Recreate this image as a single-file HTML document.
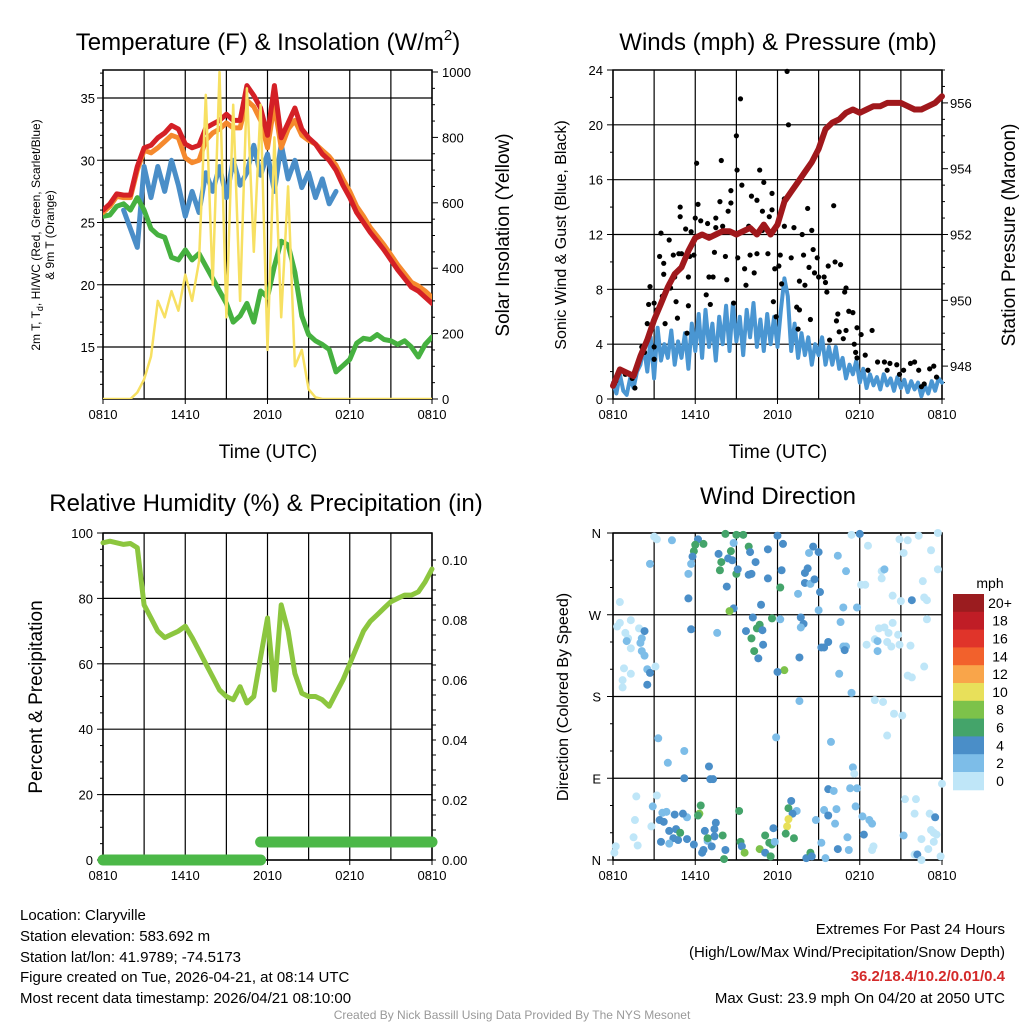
<!DOCTYPE html>
<html><head><meta charset="utf-8"><style>
html,body{margin:0;padding:0;background:#fff;}
svg{display:block;font-family:"Liberation Sans",Arial,sans-serif;}
</style></head><body>
<svg id="root" width="1024" height="1024" viewBox="0 0 1024 1024" xmlns="http://www.w3.org/2000/svg">
<g id="texts">
<text x="268" y="50" font-size="24" text-anchor="middle">Temperature (F) &amp; Insolation (W/m<tspan font-size="15" dy="-10">2</tspan><tspan dy="10">)</tspan></text>
<text x="778" y="50" font-size="24" text-anchor="middle">Winds (mph) &amp; Pressure (mb)</text>
<text x="266" y="511" font-size="24" text-anchor="middle">Relative Humidity (%) &amp; Precipitation (in)</text>
<text x="778" y="504" font-size="24" text-anchor="middle">Wind Direction</text>
<text x="268" y="458" font-size="19" text-anchor="middle">Time (UTC)</text>
<text x="778" y="458" font-size="19" text-anchor="middle">Time (UTC)</text>
<text transform="translate(40,235) rotate(-90)" font-size="12" text-anchor="middle">2m T, T<tspan font-size="9" dy="3">d</tspan><tspan dy="-3">, HI/WC (Red, Green, Scarlet/Blue)</tspan></text>
<text transform="translate(54,235) rotate(-90)" font-size="12" text-anchor="middle">&amp; 9m T (Orange)</text>
<text transform="translate(509,235) rotate(-90)" font-size="19" text-anchor="middle">Solar Insolation (Yellow)</text>
<text transform="translate(566,235) rotate(-90)" font-size="16" text-anchor="middle">Sonic Wind &amp; Gust (Blue, Black)</text>
<text transform="translate(1015,235) rotate(-90)" font-size="19" text-anchor="middle">Station Pressure (Maroon)</text>
<text transform="translate(42,697) rotate(-90)" font-size="19" text-anchor="middle">Percent &amp; Precipitation</text>
<text transform="translate(568,697) rotate(-90)" font-size="16" text-anchor="middle">Direction (Colored By Speed)</text>
<g font-size="15">
<text x="20" y="920">Location: Claryville</text>
<text x="20" y="941">Station elevation: 583.692 m</text>
<text x="20" y="962">Station lat/lon: 41.9789; -74.5173</text>
<text x="20" y="982">Figure created on Tue, 2026-04-21, at 08:14 UTC</text>
<text x="20" y="1003">Most recent data timestamp: 2026/04/21 08:10:00</text>
</g>
<g font-size="15" text-anchor="end">
<text x="1005" y="934">Extremes For Past 24 Hours</text>
<text x="1005" y="957">(High/Low/Max Wind/Precipitation/Snow Depth)</text>
<text x="1005" y="981" font-weight="bold" fill="#d42a2a">36.2/18.4/10.2/0.01/0.4</text>
<text x="1005" y="1003">Max Gust: 23.9 mph On 04/20 at 2050 UTC</text>
</g>
<text x="512" y="1019" font-size="12" fill="#999" text-anchor="middle">Created By Nick Bassill Using Data Provided By The NYS Mesonet</text>
</g>
</svg>
<script>
// ---------- DATA (half-hour steps from 0810 UTC unless noted) ----------
const timeLabels = ["0810","1410","2010","0210","0810"];
const tempT = [26.0,26.5,27.3,27.2,27.2,29.5,31.0,31.2,31.8,32.2,32.8,32.5,31.3,31.0,31.2,32.6,32.9,33.2,33.7,33.2,33.2,36.0,35.2,34.2,32.0,36.0,31.8,33.0,34.2,32.5,31.8,31.3,30.5,30.0,29.2,28.0,27.0,25.8,25.0,24.2,23.5,22.8,22.0,21.2,20.5,19.8,19.5,19.0,18.5];
const temp9m = [25.8,26.3,27.1,27.0,27.0,29.2,30.8,30.6,31.0,31.5,32.0,31.8,30.2,29.8,30.0,31.6,32.2,32.5,33.0,32.6,32.6,34.8,34.3,33.2,31.0,34.5,31.0,32.5,33.2,32.0,31.6,31.3,30.8,30.3,29.6,28.5,27.5,26.3,25.5,24.6,23.9,23.2,22.4,21.6,20.9,20.2,19.9,19.5,19.0];
const tempTd = [25.5,25.6,26.3,26.5,26.0,27.0,26.0,24.5,24.0,23.8,22.2,22.0,22.8,22.0,22.5,21.5,20.5,19.5,18.5,17.0,17.5,18.5,17.0,19.5,19.0,21.5,23.5,23.2,21.0,17.5,16.0,15.5,15.2,14.8,13.0,13.5,14.0,15.3,15.7,15.6,16.0,15.6,15.5,15.2,15.5,15.0,14.2,15.2,15.8];
const tempWC = [null,null,null,26.0,24.5,23.0,29.5,27.0,29.5,27.5,30.0,28.0,25.5,27.5,25.8,29.0,27.5,29.5,27.0,30.0,28.0,29.0,31.2,28.8,30.5,27.5,31.3,28.5,30.0,27.8,29.0,27.0,28.5,26.5,27.5,null,null,null,null,null,null,null,null,null,null,17.6,null,null,null];
const insolation = [0,0,0,0,0,20,60,130,300,250,330,270,380,300,420,930,350,1000,250,900,300,950,450,900,150,800,250,650,100,150,30,5,0,0,0,0,0,0,0,0,0,0,0,0,0,0,0,0,0];
// quarter-hour wind speed
const windSpeed = [1.2,0.4,1.8,0.6,0.3,1.5,0.8,2.0,2.5,
3.8,2.0,4.5,1.5,5.2,2.8,4.0,3.0,
5.0,2.5,4.2,3.0,4.8,2.2,5.5,3.5,
6.2,3.0,6.5,3.8,5.5,2.8,6.0,4.0,
6.8,3.5,7.0,4.2,6.0,3.2,6.5,4.5,
7.0,3.8,5.8,3.5,6.2,4.0,6.0,3.8,
6.5,8.8,7.5,3.5,5.5,3.0,4.8,3.2,
4.5,2.5,4.0,3.2,4.5,2.5,3.8,2.5,
3.8,2.2,3.0,1.5,2.5,1.8,2.8,1.2,
2.2,0.8,1.8,1.0,1.6,0.7,1.8,1.0,
1.5,0.6,1.6,0.8,1.4,0.5,1.3,0.7,
1.2,0.2,1.0,0.4,1.3,0.6,1.5,1.2];
const pressure = [947.4,947.9,947.8,947.7,948.3,948.8,949.4,949.9,950.4,950.8,951.0,951.5,951.9,952.0,951.9,952.0,952.1,952.1,952.0,952.1,952.2,952.0,952.3,952.0,952.3,953.0,953.3,953.6,953.9,954.2,954.6,955.2,955.4,955.5,955.7,955.8,955.7,955.8,955.9,955.9,956.0,956.0,956.0,955.9,955.8,955.8,955.9,956.0,956.2];
const gustHours = [12.7,12.8,9.3,9.0,6.1,7.9,9.05,10.7,11.0,8.6,9.4,4.9,4.9,6.2,10.1,10.5,11.6,7.8,8.6,8.4,10.9,11.6,12.5,14.2,16.1,3.5,5.3,5.7,6.0,6.4,6.9,7.5,8.0,7.5,9.4,9.9,10.9,11.4,12.5,13.2,13.8,14.5,4.1,3.4,3.7,4.4,4.8,5.0,5.6,5.9,7.4,8.2,9.1,10.0,10.5,11.3,12.2,13.0,13.9,14.6,14.9,16.2,16.6,15.7,14.3,3.7,4.5,5.5,7.0,7.3,9.6,10.3,11.8,12.1,13.6,14.0,14.7,15.0,15.4,15.5,4.1,4.2,2.7,12.3,8.3,9.7,15.6,17.0,16.9,3.6,4.6,5.5,6.8,7.1,2.6,3.0,11.7,13.4,13.6,3.2,16.4,17.2,17.5,16.3,3.8,2.5,4.7,5.4,8.8,11.9,13.5,14.4,16.5,17.0,17.8,18.1,18.9,16.8,15.8,17.6,17.7,17.8,18.4,2.1,2.3,3.0,3.0,18.6,19.3,19.8,20.2,20.7,20.0,21.2,20.9,21.7,22.0,22.3,23.1,23.4,23.6,22.7,22.5,0.6,0.9,1.4,0.2,0.1,1.6];
const gustMph = [23.9,20,21.9,19.2,17.2,17.4,16.7,16.7,15.8,15.2,15.6,14,13.3,14.2,14.8,14.5,15,14.4,14.3,13.7,13.7,13.8,14.6,13.9,14.1,12.1,12.4,12.2,13.2,13,12.8,12.5,12.6,13.2,12.2,12.6,12.3,13.3,12.6,12.5,12,12.3,11.6,10.4,9.9,10.5,10.6,10.6,10.4,10.5,10.7,10.4,10.3,10.5,10.6,10.6,10.5,10.3,10.5,10.9,10.3,10,9.8,9.7,9.6,9.1,8.9,8.9,8.9,8.9,9.5,9.2,9.5,9.7,8.6,8.3,9.2,8.9,8.9,8.5,8.4,8.1,8.2,8.4,8.7,8.3,7.8,8.1,7.8,7.5,7.1,6.8,7.6,6.9,6.9,7,7.1,6.7,6.5,6.5,6.2,6.4,6.3,5.7,5.5,5.5,5.9,4.8,7,6,5.1,5.8,4.9,5,5.2,4.7,5,4.4,4.3,4,3.4,3,3.2,3.8,3.4,3.8,2.9,2.1,2.7,2.7,2.6,2.5,2.1,2.1,1.8,2.6,2.7,2.1,2.2,2.4,1.6,1.1,0.9,2.1,1.8,1.5,1.3,1.1,0.8];
const humidity = [97,97.5,97,96.5,96.8,95.5,78,74,70,68,69,70,71.5,68,64,60,56,52,50,49,53,48,50,62,74,52,78,70,57,51,50,50,49,47,51,55,60,65,70,73,75,77,79,80,81,81,82,85,89];
const precip = [0,0,0,0,0,0,0,0,0,0,0,0,0,0,0,0,0,0,0,0,0,0,0,0.006,0.006,0.006,0.006,0.006,0.006,0.006,0.006,0.006,0.006,0.006,0.006,0.006,0.006,0.006,0.006,0.006,0.006,0.006,0.006,0.006,0.006,0.006,0.006,0.006,0.006];
const dirHours = [3.0,3.2,4.3,6.2,6.0,6.6,5.9,5.8,5.7,5.5,2.7,5.5,0.5,8.2,9.0,9.5,8.8,9.9,10,7.7,8.6,8.4,8.7,7.9,7.8,9.0,9.1,9.9,10.1,10.4,11.3,12.0,12.4,12.3,11.3,12.2,8.3,10.8,8.8,8.5,14.6,14.3,15.0,14.2,14.0,14.0,14.4,14.7,15.1,13.5,16.4,17.0,17.4,18.0,18.6,15.0,16.8,17.8,18.1,18.4,19.6,19.8,19.6,20.4,21.0,21.8,22.7,22.9,20.9,21.5,22.3,23.7,21.2,23.2,23.7,22.6,
0.5,0.3,1.3,0.9,1.1,1.0,1.9,2.3,2.1,2.0,1.3,2.1,2.3,0.8,1.3,0.7,0.7,2.5,2.7,3.1,2.5,5.7,7.6,10.2,11.6,12.2,10.7,10.5,9.7,10.9,10.1,10.95,10.3,10.6,12.5,12.0,13.6,13.7,13.9,13.7,15.7,15.4,15.2,16.6,16.8,17.0,16.9,16.5,17.4,19.4,19.8,20.4,20.1,20.8,19.1,19.3,20.0,20.3,20.9,19.3,18.5,21.7,22.9,22.7,21.5,21.8,
13.6,19.1,19.7,20.5,21.1,20.0,3.3,11.9,15.9,5.2,4.0,7.0,5.2,7.1,7.3,17.5,17.6,
24.0,15.7,16.1,17.3,17.8,1.7,3.2,2.9,21.3,22.1,22.0,23.1,23.5,13.0,12.8,13.4,13.1,12.8,12.7,12.6,13.2,9.2,6.4,6.3,6.2,5.4,5.1,4.5,3.9,3.6,3.4,3.7,2.8,1.6,1.5,1.8,0.2,0.1,3.5,4.1,4.4,4.6,4.75,4.9,5.4,4.1,5.9,6.7,6.9,7.4,7.5,7.4,8.0,6.9,7.2,6.6,6.5,8.2,9.3,9.4,9.6,8.1,10.7,11.1,11.5,11.1,11.4,11.6,11.7,11.8,14.1,14.4,14.5,15.2,15.5,14.8,15.4,15.7,16.3,16.2,16.4,17.2,17.1,17.7,18.2,18.3,18.7,18.9,19.0,18.9,21.2,22.5,23.2,23.4,23.6,23.4,23.0,22.0,22.2,22.5,23.9];
const dirDegrees = [356,353,352,353,347,348,340,334,326,315,326,288,284,359,358,358,349,345,339,337,340,332,330,328,319,315,320,314,315,328,342,357,348,319,310,300,301,281,277,274,345,338,339,321,316,305,304,309,295,293,335,318,358,359,346,275,278,278,303,303,318,320,310,291,285,286,289,286,353,352,357,360,338,341,320,307,
261,257,264,250,244,241,255,252,244,239,233,230,225,211,205,198,190,210,206,213,193,254,250,267,266,265,259,255,252,253,244,237,230,222,209,207,223,267,260,256,240,234,234,262,235,235,231,205,184,255,256,261,250,248,243,241,240,235,237,230,237,236,265,213,203,201,
175,176,174,161,159,137,134,135,130,120,107,103,90,89,89,102,95,
84,78,76,79,79,70,71,59,67,67,51,51,47,65,57,54,51,45,37,29,24,54,60,51,49,47,51,50,53,52,44,42,37,44,25,16,15,8,20,32,24,34,22,30,23,18,17,32,21,34,41,26,27,24,15,11,8,11,20,15,8,1,12,8,4,27,19,17,35,20,2,8,4,19,2,44,55,49,56,40,12,11,25,59,48,28,44,40,15,11,27,23,33,30,28,20,12,6,6,0,4];
const dirSpeeds = [1,1,3,5,7,7,7,5,3,3,3,5,1,7,7,7,3,7,5,5,7,5,5,7,7,7,5,5,5,5,5,5,5,5,5,7,5,5,5,9,5,3,5,5,5,5,3,5,5,3,3,3,1,5,1,3,3,3,1,1,1,3,1,1,1,5,1,1,1,1,1,1,1,1,1,1,
1,1,1,1,1,3,1,5,3,3,1,3,3,1,1,1,1,3,5,1,5,5,3,5,7,3,7,7,5,5,7,5,7,5,9,5,5,5,5,3,5,5,5,3,3,3,5,3,3,1,1,1,1,1,1,3,1,1,1,3,1,1,1,1,1,1,
3,1,1,1,1,1,3,3,3,3,3,5,5,5,5,3,1,
1,5,3,3,3,1,1,3,1,1,1,1,5,5,7,3,5,11,11,7,7,7,7,9,7,3,5,5,3,3,5,5,1,1,1,1,1,1,5,5,5,5,5,7,5,3,5,5,3,5,5,5,7,7,5,5,5,5,7,5,9,7,9,5,7,7,7,7,5,3,5,7,5,3,3,3,3,5,3,3,5,3,3,3,3,5,3,3,1,1,3,1,1,1,1,1,1,1,5,1,1,1,1,1,1];
const speedBins = ["0","2","4","6","8","10","12","14","16","18","20+"];
const speedColors = ["#bfe6f8","#7dbde8","#4a8ec8","#44a46a","#7dc24a","#e8e05a","#f9a54a","#f2612c","#e0342a","#c01d26","#9b1c1f"];

// ---------- HELPERS ----------
const NS = "http://www.w3.org/2000/svg";
const root = document.getElementById("root");
function mk(tag, attrs, parent){ const e=document.createElementNS(NS,tag); for(const k in attrs) e.setAttribute(k,attrs[k]); (parent||root).appendChild(e); return e; }
function lin(d0,d1,r0,r1){ return v => r0 + (v-d0)*(r1-r0)/(d1-d0); }
function txt(x,y,s,size,anchor,parent){ const t=mk("text",{x:x,y:y,"font-size":size,"text-anchor":anchor},parent); t.textContent=s; return t; }

function panelFrame(name,L,T,R,B,hLinesY,vx){
  const g = mk("g",{});
  
  
  hLinesY.forEach(y=>{ const l=mk("line",{x1:L,x2:R,y1:y,y2:y,stroke:"#000","stroke-width":1.2},g);
    
     });
  for(let h=0;h<=24;h+=3){ const x=vx(h); const l=mk("line",{x1:x,x2:x,y1:T,y2:B,stroke:"#000","stroke-width":1.2},g);
    
     }
  const r=mk("rect",{x:L,y:T,width:R-L,height:B-T,fill:"none",stroke:"#000","stroke-width":1.5},g);
  
  
  timeLabels.forEach((s,i)=>{ const x=vx(i*6); const t=txt(x,B+20,s,13,"middle",g);
    
    
    mk("line",{x1:x,x2:x,y1:B,y2:B+5,stroke:"#000"},g); });
  return g;
}
function pathFrom(vals, xs, ys, name, color, width, parent, step){
  step = step || 0.5;
  let d="", pen=false;
  vals.forEach((v,i)=>{ if(v===null||v===undefined){pen=false;return;} d+=(pen?"L":"M")+xs(i*step).toFixed(1)+","+ys(v).toFixed(1); pen=true; });
  const p=mk("path",{d:d,fill:"none",stroke:color,"stroke-width":width,"stroke-linejoin":"round","stroke-linecap":"round"},parent);
  
  
  return p;
}

// ---------- PANEL 1 ----------
{
  const L=103,R=432,T=70,B=399;
  const x=lin(0,24,L,R), yT=lin(15,35,347,98), yI=lin(0,1000,399,72);
  const g=panelFrame("temperature-panel",L,T,R,B,[15,20,25,30,35].map(yT),x);
  [15,20,25,30,35].forEach(v=>{ const t=txt(L-8,yT(v)+5,String(v),13,"end",g);
    
     });
  for(let v=12;v<=37;v++){ mk("line",{x1:L-(v%5?3:6),x2:L,y1:yT(v),y2:yT(v),stroke:"#000"},g); }
  [0,200,400,600,800,1000].forEach(v=>{ const t=txt(R+10,yI(v)+5,String(v),13,"start",g);
    
     });
  for(let v=0;v<=1000;v+=50){ mk("line",{x1:R,x2:R+(v%200?3:6),y1:yI(v),y2:yI(v),stroke:"#000"},g); }
  const cg=mk("g",{"clip-path":"url(#c1)"},g);
  const cp=mk("clipPath",{id:"c1"},g); mk("rect",{x:L,y:T,width:R-L,height:B-T},cp);
  pathFrom(tempWC,x,yT,"windchill-line","#4a8ec8",5,cg);
  pathFrom(tempTd,x,yT,"dewpoint-line","#46b140",5,cg);
  pathFrom(temp9m,x,yT,"temp-9m-line","#f5892d",5,cg);
  pathFrom(tempT,x,yT,"temp-2m-line","#d42026",5,cg);
  pathFrom(insolation,x,yI,"insolation-line","#f7e062",2.5,cg);
}
// ---------- PANEL 2 ----------
{
  const L=613,R=942,T=70,B=399;
  const x=lin(0,24,L,R), yW=lin(0,24,B,T), yP=lin(947,957,B,T);
  const g=panelFrame("winds-panel",L,T,R,B,[4,8,12,16,20].map(yW),x);
  [0,4,8,12,16,20,24].forEach(v=>{ const t=txt(L-10,yW(v)+5,String(v),13,"end",g);
    
     });
  for(let v=0;v<=24;v+=2){ mk("line",{x1:L-(v%4?3:6),x2:L,y1:yW(v),y2:yW(v),stroke:"#000"},g); }
  [948,950,952,954,956].forEach(v=>{ const t=txt(R+8,yP(v)+5,String(v),13,"start",g);
    
     });
  for(let v=947;v<=957;v+=0.5){ mk("line",{x1:R,x2:R+((v%2===0)?6:3),y1:yP(v),y2:yP(v),stroke:"#000"},g); }
  pathFrom(windSpeed,x,yW,"wind-speed-line","#4a96d2",4,g,0.25);
  gustHours.forEach((h,i)=>{ const c=mk("circle",{cx:x(h),cy:yW(gustMph[i]),r:2.6,fill:"#000"},g);
    
     });
  pathFrom(pressure,x,yP,"pressure-line","#a0181c",6,g);
}
// ---------- PANEL 3 ----------
{
  const L=103,R=432,T=533,B=860;
  const x=lin(0,24,L,R), yH=lin(0,100,B,T), yR=lin(0,0.1,B,560);
  const g=panelFrame("humidity-panel",L,T,R,B,[0,20,40,60,80,100].map(yH),x);
  [0,20,40,60,80,100].forEach(v=>{ const t=txt(L-10,yH(v)+5,String(v),13,"end",g);
    
     });
  for(let v=0;v<=100;v+=5){ mk("line",{x1:L-(v%20?3:6),x2:L,y1:yH(v),y2:yH(v),stroke:"#000"},g); }
  ["0.00","0.02","0.04","0.06","0.08","0.10"].forEach(s=>{ const t=txt(R+10,yR(parseFloat(s))+5,s,13,"start",g);
    
     });
  for(let v=0;v<=0.105;v+=0.005){ mk("line",{x1:R,x2:R+4,y1:yR(v),y2:yR(v),stroke:"#000"},g); }
  pathFrom(humidity,x,yH,"humidity-line","#8cc63f",5,g);
  const pg=mk("g",{},g);
  
  
  let seg=[];
  precip.forEach((v,i)=>{ if(i>0 && precip[i-1]!==v){ pathFrom(seg.concat([v===0?null:precip[i-1]]).concat(Array(precip.length).fill(null)).slice(0,precip.length),x,yR,"precip-segment","#4cb848",11,pg); seg=Array(i).fill(null); } seg.push(v); });
  pathFrom(seg,x,yR,"precip-segment","#4cb848",11,pg);
}
// ---------- PANEL 4 ----------
{
  const L=613,R=942,T=533,B=860;
  const x=lin(0,24,L,R), yD=lin(0,360,B,T);
  const g=panelFrame("wind-direction-panel",L,T,R,B,[0,90,180,270,360].map(yD),x);
  ["N","E","S","W","N"].forEach((s,i)=>{ const t=txt(L-12,yD(i*90)+5,s,13,"end",g);
    
     });
  for(let v=0;v<=360;v+=30){ mk("line",{x1:L-(v%90?3:6),x2:L,y1:yD(v),y2:yD(v),stroke:"#000"},g); }
  dirHours.forEach((h,i)=>{ const bin=Math.min(10,Math.floor(dirSpeeds[i]/2));
    const c=mk("circle",{cx:x(h),cy:yD(dirDegrees[i]),r:4,fill:speedColors[bin]},g);
    
     });
  const lg=mk("g",{},g);
  
  
  const lt=txt(990,588,"mph",14,"middle",lg);
  
  
  const bh=17.8;
  speedBins.forEach((s,i)=>{ const k=speedBins.length-1-i; const y=594+i*bh;
    const r=mk("rect",{x:953,y:y,width:31,height:bh+0.5,fill:speedColors[k]},lg);
    
    
    const t=txt(1000,y+bh/2+5,speedBins[k],14,"middle",lg);
    
     });
}
</script>
</body></html>
